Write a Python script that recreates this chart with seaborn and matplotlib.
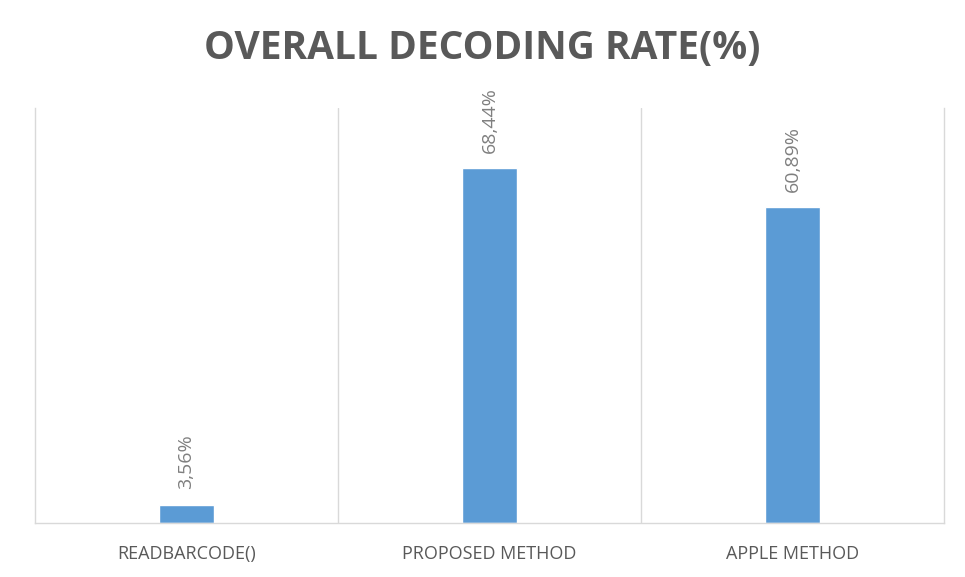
import matplotlib
matplotlib.use("Agg")
import matplotlib.pyplot as plt
import seaborn as sns
import pandas as pd

categories = ["READBARCODE()", "PROPOSED METHOD", "APPLE METHOD"]
values = [3.56, 68.44, 60.89]
value_labels = ["3,56%", "68,44%", "60,89%"]
title = "OVERALL DECODING RATE(%)"

sns.set_style("white")
plt.rcParams["font.family"] = ["Open Sans", "DejaVu Sans"]

df = pd.DataFrame({"category": categories, "value": values})

fig = plt.figure(figsize=(9.65, 5.77), dpi=100)
ax = fig.add_axes([35/965, 1-523/577, (944-35)/965, (523-108)/577])

sns.barplot(data=df, x="category", y="value", color="#5B9BD5", width=0.18,
            saturation=1, ax=ax)

ax.set_xlim(-0.5, 2.5)
ax.set_ylim(0, 80)
ax.set_yticks([])
ax.set_xlabel("")
ax.set_ylabel("")

grid_c = "#D9D9D9"
for s in ["left", "right", "bottom"]:
    ax.spines[s].set_visible(True)
    ax.spines[s].set_color(grid_c)
    ax.spines[s].set_linewidth(1.0)
ax.spines["top"].set_visible(False)

ax.set_xticks([0.5, 1.5], minor=True)
ax.grid(which="minor", axis="x", color=grid_c, linewidth=1.0)
ax.tick_params(axis="x", which="both", length=0, pad=16, labelsize=13,
               labelcolor="#595959")

for i, (v, lab) in enumerate(zip(values, value_labels)):
    ax.annotate(lab, (i, v), xytext=(0, 11), textcoords="offset points",
                rotation=90, ha="center", va="bottom", fontsize=14,
                color="#7F7F7F")

fig.text(0.5, 1-49/577, title, ha="center", va="center", fontsize=28,
         fontweight="bold", color="#595959")

fig.savefig("out.png", dpi=100, facecolor="white")
